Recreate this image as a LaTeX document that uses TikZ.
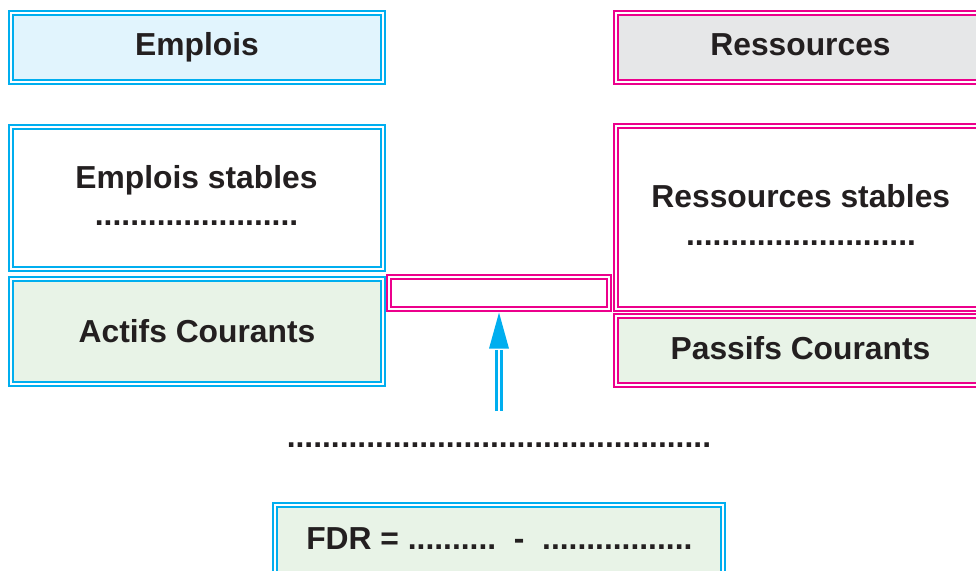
\documentclass[tikz,border=0pt]{standalone}
\usepackage{fontspec}
\setmainfont{Liberation Sans}
\definecolor{cyanline}{HTML}{00AEEF}
\definecolor{pinkline}{HTML}{EC008C}
\definecolor{bluefill}{HTML}{E1F4FD}
\definecolor{greyfill}{HTML}{E6E7E8}
\definecolor{greenfill}{HTML}{E8F3E7}
\definecolor{textcol}{HTML}{231F20}
\tikzset{
  dbox/.style={rectangle, inner sep=0pt, outer sep=0pt, line width=2pt, double=white, double distance=2.4pt},
  bluebox/.style={dbox, draw=cyanline},
  pinkbox/.style={dbox, draw=pinkline},
  lbl/.style={anchor=base, inner sep=0pt, text=textcol, font=\fontsize{31.8}{37}\selectfont\bfseries},
  shaft/.style={draw=cyanline, line width=2.8pt, double=white, double distance=2.3pt}
}
\begin{document}
\begin{tikzpicture}[x=1pt,y=-1pt]
\clip (0,0) rectangle (976,570);
% boxes
\node[bluebox, fill=bluefill, minimum width=371.6pt, minimum height=68.6pt] (emp) at (197,47.5) {};
\node[pinkbox, fill=greyfill, minimum width=367.6pt, minimum height=68.6pt] (res) at (800,47.5) {};
\node[bluebox, fill=white, minimum width=371.6pt, minimum height=141.6pt] (emps) at (197,198) {};
\node[bluebox, fill=greenfill, minimum width=371.6pt, minimum height=104.6pt] (actif) at (197,331.5) {};
\node[pinkbox, fill=white, minimum width=219.6pt, minimum height=31.6pt] (mid) at (499,293) {};
\node[pinkbox, fill=white, minimum width=367.6pt, minimum height=182.6pt] (ress) at (800,217.5) {};
\node[pinkbox, fill=greenfill, minimum width=367.6pt, minimum height=68.6pt] (passif) at (800,350.5) {};
\node[bluebox, fill=greenfill, minimum width=447.6pt, minimum height=86.6pt] (fdr) at (499,548.5) {};
% texts
\node[lbl] (tEmp) at (197,55) {Emplois};
\node[lbl] (tRes) at (800.5,55) {Ressources};
\node[lbl] (tEmps) at (196.5,188.3) {Emplois stables};
\node[lbl] (tEmpsDots) at (196.5,225) {.......................};
\node[lbl] (tActif) at (197,342) {Actifs Courants};
\node[lbl] (tRess) at (800.8,207.7) {Ressources stables};
\node[lbl] (tRessDots) at (801,245) {..........................};
\node[lbl] (tPassif) at (800.5,359.3) {Passifs Courants};
\node[lbl] (tDots) at (498.8,447) {................................................};
\node[lbl] (tFdr) at (499.3,549) {FDR = ..........\ \ -\ \ .................};
% arrow
\coordinate (tip) at ([yshift=-3.8pt]mid.south);
\coordinate (headbase) at ([yshift=-36pt]tip);
\coordinate (foot) at (499,411);
\draw[shaft] (foot) -- ([yshift=-1pt]headbase);
\fill[cyanline] (tip) -- ([xshift=-10pt]headbase) -- ([xshift=10pt]headbase) -- cycle;
\end{tikzpicture}
\end{document}
